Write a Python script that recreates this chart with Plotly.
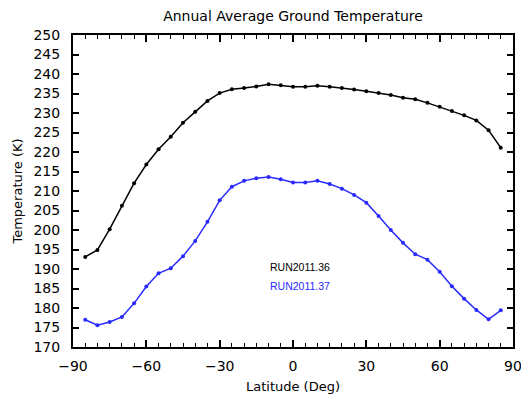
import plotly.graph_objects as go

latitude = [-85, -80, -75, -70, -65, -60, -55, -50, -45, -40, -35, -30, -25, -20, -15, -10, -5,
            0, 5, 10, 15, 20, 25, 30, 35, 40, 45, 50, 55, 60, 65, 70, 75, 80, 85]
run36 = [193.1, 194.9, 200.2, 206.2, 212.0, 216.8, 220.7, 223.9, 227.5, 230.3, 233.1, 235.1, 236.1,
         236.4, 236.8, 237.4, 237.1, 236.7, 236.7, 237.0, 236.7, 236.4, 236.0, 235.6, 235.1, 234.6,
         233.9, 233.5, 232.6, 231.6, 230.5, 229.4, 228.1, 225.6, 221.1]
run37 = [177.0, 175.6, 176.4, 177.7, 181.2, 185.5, 188.9, 190.2, 193.3, 197.2, 202.1, 207.6, 211.1,
         212.6, 213.3, 213.6, 213.0, 212.2, 212.2, 212.6, 211.8, 210.6, 209.0, 207.0, 203.6, 200.0,
         196.7, 193.8, 192.4, 189.3, 185.6, 182.4, 179.5, 177.1, 179.4]
series_names = ["RUN2011.36", "RUN2011.37"]
series_colors = ["#000000", "#2a2aff"]
x_ticks = [-90, -60, -30, 0, 30, 60, 90]
y_ticks = list(range(170, 251, 5))

FONT = "DejaVu Sans"

fig = go.Figure()
for name, vals, col in zip(series_names, [run36, run37], series_colors):
    fig.add_trace(go.Scatter(x=latitude, y=vals, name=name, mode="lines+markers",
                             line=dict(color=col, width=1.5),
                             marker=dict(color=col, size=4)))

for i, (name, col) in enumerate(zip(series_names, series_colors)):
    fig.add_annotation(text=name, x=(268 - 73) / 440, xref="paper",
                       y=(347 - 267 - i * 19) / 312, yref="paper",
                       xanchor="left", yanchor="middle", showarrow=False,
                       font=dict(family="Liberation Sans", size=10.5, color=col))

fig.update_layout(
    width=521, height=400,
    margin=dict(l=73, r=8, t=35, b=53, autoexpand=False),
    paper_bgcolor="white", plot_bgcolor="white",
    showlegend=False,
    title=dict(text="Annual Average Ground Temperature", x=293 / 521, xanchor="center",
               y=1 - 16 / 400, yanchor="middle", font=dict(family=FONT, size=14, color="black")),
    font=dict(family=FONT, color="black"),
)
fig.update_xaxes(range=[-90, 90], tickvals=x_ticks, ticks="inside", ticklen=7, tickwidth=1.5,
                 tickcolor="black", showline=True, linecolor="black", linewidth=2, mirror="ticks",
                 showgrid=False, zeroline=False, tickfont=dict(size=14), automargin=False,
                 ticklabelstandoff=5, ticklabeloverflow="allow",
                 minor=dict(dtick=5, ticks="inside", ticklen=4, tickcolor="black", tickwidth=1),
                 title=dict(text="Latitude (Deg)", font=dict(size=13), standoff=9))
fig.update_yaxes(range=[170, 250], tickvals=y_ticks, ticks="inside", ticklen=6, tickwidth=1.5,
                 tickcolor="black", showline=True, linecolor="black", linewidth=2, mirror="ticks",
                 showgrid=False, zeroline=False, tickfont=dict(size=14), automargin=False,
                 ticklabelstandoff=8, ticklabeloverflow="allow",
                 title=dict(text="Temperature (K)", font=dict(size=13), standoff=8))

fig.write_html("out.html", config={"displayModeBar": False},
               post_script="document.body.style.margin='0';")
